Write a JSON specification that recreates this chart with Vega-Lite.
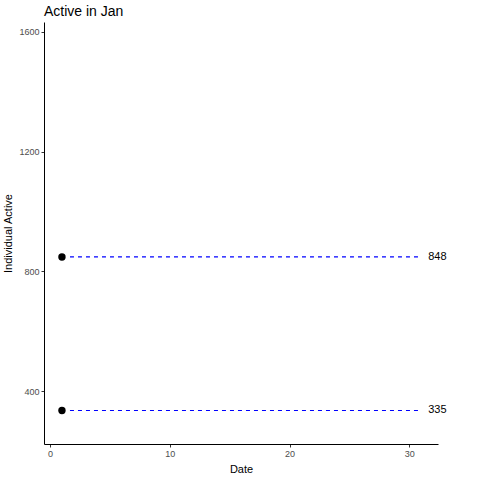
{
  "$schema": "https://vega.github.io/schema/vega-lite/v6.json",
  "width": 394,
  "height": 422,
  "autosize": {"type": "none"},
  "padding": {"left": 44, "top": 22, "right": 42, "bottom": 36},
  "background": "white",
  "title": {"text": "Active in Jan", "anchor": "start", "frame": "group", "font": "Liberation Sans", "fontSize": 14, "fontWeight": "normal", "color": "black", "offset": 3},
  "data": {"values": [
    {"date": 1, "active": 848, "end": 31},
    {"date": 1, "active": 335, "end": 31}
  ]},
  "config": {
    "view": {"stroke": null},
    "axis": {"grid": false, "domainColor": "black", "domainWidth": 1, "tickColor": "#333333", "tickSize": 3, "labelFont": "Liberation Sans", "labelFontSize": 9, "labelColor": "#4d4d4d", "labelPadding": 2, "titleFont": "Liberation Sans", "titleFontSize": 11, "titleFontWeight": "normal", "titleColor": "black"}
  },
  "encoding": {
    "y": {"field": "active", "type": "quantitative", "title": "Individual Active", "scale": {"domain": [223, 1633], "nice": false, "zero": false}, "axis": {"values": [400, 800, 1200, 1600], "format": "d", "titlePadding": 5}}
  },
  "layer": [
    {
      "mark": {"type": "rule", "color": "blue", "strokeDash": [4, 4], "strokeWidth": 1.2, "xOffset": 8, "x2Offset": -3},
      "encoding": {
        "x": {"field": "date", "type": "quantitative", "title": "Date", "scale": {"domain": [-0.5, 32.4], "nice": false, "zero": false}, "axis": {"values": [0, 10, 20, 30], "format": "d", "titlePadding": 5}},
        "x2": {"field": "end"}
      }
    },
    {
      "mark": {"type": "point", "filled": true, "color": "black", "opacity": 1, "size": 55},
      "encoding": {
        "x": {"field": "date", "type": "quantitative"}
      }
    },
    {
      "mark": {"type": "text", "align": "left", "baseline": "middle", "dx": 7, "font": "Liberation Sans", "fontSize": 11, "color": "black"},
      "encoding": {
        "x": {"field": "end", "type": "quantitative"},
        "text": {"field": "active", "type": "quantitative"}
      }
    }
  ]
}
